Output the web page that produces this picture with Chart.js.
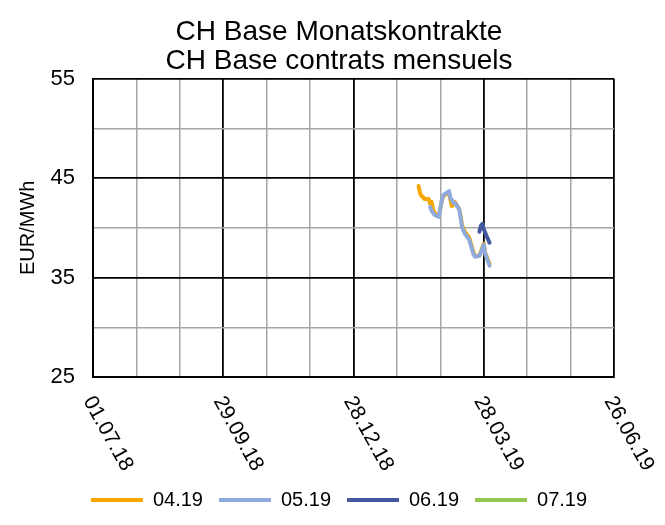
<!DOCTYPE html>
<html>
<head>
<meta charset="utf-8">
<script src="https://cdn.jsdelivr.net/npm/chart.js@4.4.1/dist/chart.umd.min.js"></script>
<style>
  body { margin: 0; background: #fff; }
  canvas { display: block; }
</style>
</head>
<body>
<canvas id="priceChart" width="665" height="525"></canvas>
<script>
// trading days shown on the chart
const tradeDays = [
    '2019-02-11', '2019-02-12', '2019-02-13', '2019-02-14', '2019-02-15',
    '2019-02-18', '2019-02-19', '2019-02-20', '2019-02-21', '2019-02-22',
    '2019-02-25', '2019-02-26', '2019-02-27', '2019-02-28', '2019-03-01',
    '2019-03-04', '2019-03-05', '2019-03-06', '2019-03-07', '2019-03-08',
    '2019-03-11', '2019-03-12', '2019-03-13', '2019-03-14', '2019-03-15',
    '2019-03-18', '2019-03-19', '2019-03-20', '2019-03-21', '2019-03-22',
    '2019-03-25', '2019-03-26', '2019-03-27', '2019-03-28', '2019-03-29',
    '2019-04-01'
];

// EUR/MWh per contract (null = not traded yet)
const values0419 = [
    44.2, 43.5, 43.2, 43.1, 42.9,
    42.9, 42.4, 42.6, 41.8, 41.5,
    41.2, 41.9, 42.7, 43.2, 43.3,
    43.6, 42.8, 42.2, 42.3, 42.6,
    41.9, 41.2, 40.3, 39.9, 39.6,
    39.0, 38.5, 38.0, 37.5, 37.2,
    37.2, 37.6, 38.0, 38.4, 37.5,
    36.4
];
const values0519 = [
    null, null, null, null, null,
    null, 42.1, 41.7, 41.5, 41.3,
    41.1, 42.0, 42.8, 43.3, 43.4,
    43.7, 43.0, 42.8, 42.5, 42.5,
    41.9, 41.0, 40.1, 39.7, 39.4,
    38.8, 38.3, 37.8, 37.3, 37.1,
    37.2, 37.5, 37.9, 38.3, 37.4,
    36.2
];
const values0619 = [
    null, null, null, null, null,
    null, null, null, null, null,
    null, null, null, null, null,
    null, null, null, null, null,
    null, null, null, null, null,
    null, null, null, null, null,
    39.6, 40.2, 40.4, 39.9, 39.5,
    38.5
];
const values0719 = [];

const seriesNames = ['04.19', '05.19', '06.19', '07.19'];
const xTickLabels = ['01.07.18', '29.09.18', '28.12.18', '28.03.19', '26.06.19'];
const yTickLabels = [25, 35, 45, 55];

const FONT = '"Liberation Sans", Arial, sans-serif';
const START = Date.UTC(2018, 6, 1);
const DAY = 86400000;

function isoToDay(s) {
    const [y, m, d] = s.split('-').map(Number);
    return (Date.UTC(y, m - 1, d) - START) / DAY;
}
function labelToDay(s) {
    const [d, m, y] = s.split('.').map(Number);
    return (Date.UTC(2000 + y, m - 1, d) - START) / DAY;
}
function toPoints(values) {
    return values.map((v, i) => ({ x: isoToDay(tradeDays[i]), y: v }));
}

const xMajor = xTickLabels.map(labelToDay);

// rotated date labels under the x axis
const xDateLabels = {
    id: 'xDateLabels',
    afterDraw(chart) {
        const { ctx, chartArea } = chart;
        const xScale = chart.scales.x;
        ctx.save();
        ctx.font = '21px ' + FONT;
        ctx.fillStyle = '#000';
        ctx.textAlign = 'left';
        ctx.textBaseline = 'middle';
        xTickLabels.forEach((label, i) => {
            const px = xScale.getPixelForValue(xMajor[i]);
            ctx.save();
            ctx.translate(px - 5, chartArea.bottom + 21);
            ctx.rotate(61 * Math.PI / 180);
            ctx.fillText(label, 0, 0);
            ctx.restore();
        });
        ctx.restore();
    }
};

const colors = ['#F7A600', '#8FAADC', '#44589F', '#92C84F'];

Chart.defaults.font.family = FONT;
Chart.defaults.color = '#000';

new Chart(document.getElementById('priceChart'), {
    type: 'line',
    data: {
        datasets: [values0419, values0519, values0619, values0719].map((vals, i) => ({
            label: seriesNames[i],
            data: toPoints(vals),
            borderColor: colors[i],
            backgroundColor: colors[i],
            borderWidth: 4,
            pointRadius: 0,
            tension: 0,
            fill: false,
            borderCapStyle: 'round',
            borderJoinStyle: 'round',
            order: seriesNames.length - i   // later contracts drawn on top
        }))
    },
    options: {
        responsive: false,
        animation: false,
        devicePixelRatio: 1,
        layout: { padding: { left: 13, right: 0, top: 0, bottom: 5 } },
        plugins: {
            title: {
                display: true,
                text: ['CH Base Monatskontrakte', 'CH Base contrats mensuels'],
                color: '#000',
                font: { size: 28, weight: 'normal', lineHeight: 1.03 },
                padding: { top: 18, bottom: 3 }
            },
            legend: {
                position: 'bottom',
                labels: {
                    color: '#000',
                    font: { size: 20 },
                    boxWidth: 52,
                    boxHeight: 4,
                    padding: 16,
                    sort: (a, b) => a.datasetIndex - b.datasetIndex,
                    generateLabels(chart) {
                        return Chart.defaults.plugins.legend.labels.generateLabels(chart)
                            .map(item => Object.assign(item, { lineWidth: 0 }));
                    }
                }
            },
            tooltip: { enabled: false }
        },
        scales: {
            x: {
                type: 'linear',
                min: 0,
                max: 360,
                ticks: { stepSize: 30, display: false },
                grid: {
                    drawTicks: false,
                    color: ctx => xMajor.includes(ctx.tick.value) ? '#000' : '#A6A6A6',
                    lineWidth: ctx => xMajor.includes(ctx.tick.value) ? 1.8 : 1.5
                },
                border: { color: '#000', width: 2 },
                afterFit(scale) { scale.height = 97; }
            },
            y: {
                min: 25,
                max: 55,
                ticks: {
                    stepSize: 5,
                    padding: 18,
                    color: '#000',
                    font: { size: 22 },
                    callback: v => yTickLabels.includes(v) ? String(v) : ''
                },
                grid: {
                    drawTicks: false,
                    color: ctx => yTickLabels.includes(ctx.tick.value) ? '#000' : '#A6A6A6',
                    lineWidth: ctx => yTickLabels.includes(ctx.tick.value) ? 1.8 : 1.5
                },
                border: { color: '#000', width: 2 },
                title: {
                    display: true,
                    text: 'EUR/MWh',
                    color: '#000',
                    font: { size: 20 },
                    padding: { top: 3, bottom: 0 }
                },
                afterFit(scale) { scale.width = 80; }
            },
            yRight: {
                type: 'linear',
                position: 'right',
                display: true,
                grid: { display: false },
                ticks: { display: false },
                border: { display: false },
                afterFit(scale) { scale.width = 51; }
            }
        }
    },
    plugins: [xDateLabels]
});
</script>
</body>
</html>
